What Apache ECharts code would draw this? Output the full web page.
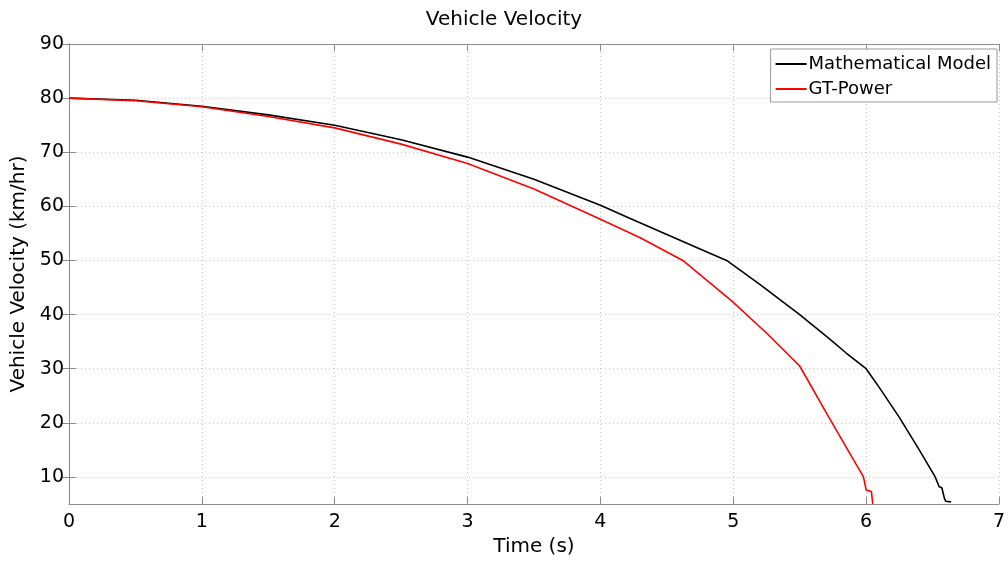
<!DOCTYPE html>
<html>
<head>
<meta charset="utf-8">
<script src="https://cdn.jsdelivr.net/npm/echarts@6/dist/echarts.min.js"></script>
<style>
html,body{margin:0;padding:0;background:#fff;}
#chart{width:1008px;height:562px;}
</style>
</head>
<body>
<div id="chart"></div>
<script>
// ---- data ----
const titleText = 'Vehicle Velocity';
const xName = 'Time (s)';
const yName = 'Vehicle Velocity (km/hr)';
const seriesNames = ['Mathematical Model', 'GT-Power'];

const timeMath = [0, 0.5, 1, 1.5, 2, 2.5, 3, 3.5, 4, 4.22, 4.5, 4.75, 4.95, 5.2, 5.5, 5.72, 5.85, 6.0, 6.1, 6.25, 6.4, 6.52, 6.55, 6.57, 6.59, 6.6, 6.64];
const velMath  = [80, 79.6, 78.5, 76.9, 75.0, 72.3, 69.1, 65.0, 60.2, 57.8, 54.8, 52.1, 50.0, 45.6, 40.0, 35.6, 32.9, 30.0, 26.5, 21.0, 15.0, 10.0, 8.2, 8.0, 6.0, 5.5, 5.4];

const timeGT = [0, 0.5, 1, 1.5, 2, 2.5, 3, 3.5, 4, 4.3, 4.62, 4.99, 5.25, 5.5, 5.72, 5.85, 5.98, 6.0, 6.04, 6.05];
const velGT  = [80, 79.5, 78.4, 76.6, 74.5, 71.5, 67.9, 63.2, 57.6, 54.2, 50.0, 42.5, 36.6, 30.5, 21.0, 15.5, 10.0, 7.6, 7.3, 5.0];

const xTicks = [0, 1, 2, 3, 4, 5, 6, 7];
const yTicks = [10, 20, 30, 40, 50, 60, 70, 80, 90];
const yMin = 5, yMax = 90;

// ---- chart ----
const font = 'DejaVu Sans';
const axisGray = '#8c8c8c';
const pairs = (xs, ys) => xs.map((x, i) => [x, ys[i]]);

const chart = echarts.init(document.getElementById('chart'));
const option = {
  backgroundColor: '#ffffff',
  animation: false,
  title: {
    text: titleText,
    left: 'center',
    top: 5,
    textStyle: { fontFamily: font, fontSize: 20, fontWeight: 'normal', color: '#000' }
  },
  legend: {
    orient: 'vertical',
    right: 11,
    top: 49,
    padding: [5, 6, 3, 5],
    itemGap: 5,
    itemWidth: 31,
    itemHeight: 2,
    icon: 'rect',
    backgroundColor: '#fff',
    borderColor: '#9a9a9a',
    borderWidth: 1,
    borderRadius: 0,
    textStyle: { fontFamily: font, fontSize: 18, color: '#000', lineHeight: 20, padding: [0, 0, 0, -3] },
    data: seriesNames
  },
  grid: { left: 69, right: 8, top: 44, bottom: 55, containLabel: false },
  xAxis: [{
    type: 'value',
    min: xTicks[0], max: xTicks[xTicks.length - 1], interval: 1,
    name: xName, nameLocation: 'middle', nameGap: 33,
    nameTextStyle: { fontFamily: font, fontSize: 20, color: '#000' },
    axisLine: { show: true, onZero: false, lineStyle: { color: axisGray, width: 1 } },
    axisTick: { show: true, inside: true, length: 7, lineStyle: { color: axisGray } },
    axisLabel: { fontFamily: font, fontSize: 19, color: '#000', margin: 9 },
    splitLine: { show: true, lineStyle: { color: '#c4c4c4', type: [1, 3], width: 1 } }
  }, {
    type: 'value', position: 'top',
    min: xTicks[0], max: xTicks[xTicks.length - 1], interval: 1,
    axisLine: { show: true, lineStyle: { color: axisGray, width: 1 } },
    axisTick: { show: true, inside: true, length: 7, lineStyle: { color: axisGray } },
    axisLabel: { show: false },
    splitLine: { show: false }
  }],
  yAxis: [{
    type: 'value',
    min: yMin, max: yMax,
    name: yName, nameLocation: 'middle', nameGap: 37, nameRotate: 90,
    nameTextStyle: { fontFamily: font, fontSize: 20, color: '#000' },
    axisLine: { show: true, onZero: false, lineStyle: { color: axisGray, width: 1 } },
    axisTick: { show: true, inside: true, length: 7, customValues: yTicks, lineStyle: { color: axisGray } },
    axisLabel: { fontFamily: font, fontSize: 19, color: '#000', margin: 5, customValues: yTicks },
    splitLine: { show: true, lineStyle: { color: '#c4c4c4', type: [1, 3], width: 1 } }
  }, {
    type: 'value', position: 'right',
    min: yMin, max: yMax,
    axisLine: { show: true, lineStyle: { color: axisGray, width: 1 } },
    axisTick: { show: true, inside: true, length: 7, customValues: yTicks, lineStyle: { color: axisGray } },
    axisLabel: { show: false, customValues: yTicks },
    splitLine: { show: false }
  }],
  series: [{
    name: seriesNames[0],
    type: 'line',
    xAxisIndex: 0, yAxisIndex: 0,
    data: pairs(timeMath, velMath),
    showSymbol: false, symbol: 'none',
    color: '#000000',
    lineStyle: { color: '#000000', width: 1.6 },
    z: 3
  }, {
    name: seriesNames[1],
    type: 'line',
    xAxisIndex: 0, yAxisIndex: 0,
    data: pairs(timeGT, velGT),
    showSymbol: false, symbol: 'none',
    color: '#ff0000',
    lineStyle: { color: '#ff0000', width: 1.6 },
    z: 4
  }]
};
chart.setOption(option);
</script>
</body>
</html>
